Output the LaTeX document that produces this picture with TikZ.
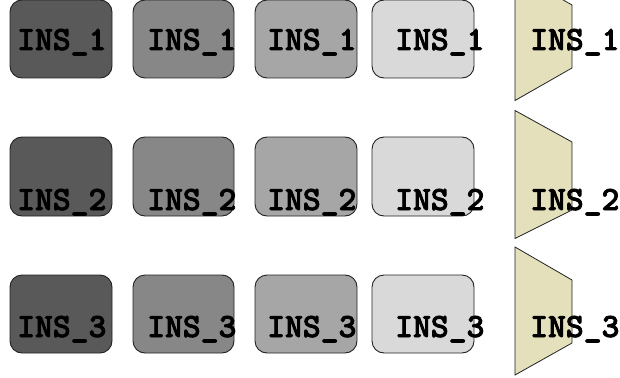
\documentclass[tikz,border=0pt]{standalone}
\usepackage{fontspec}
\newfontfamily\courb{lmmonolt10-bold.otf}[FakeBold=2.2]
\definecolor{gA}{HTML}{595959}
\definecolor{gB}{HTML}{878787}
\definecolor{gC}{HTML}{A6A6A6}
\definecolor{gD}{HTML}{D9D9D9}
\definecolor{trapc}{HTML}{E3E0BB}
\definecolor{edgec}{HTML}{222222}
\tikzset{
  box/.style={draw=edgec, line width=0.9pt, rounded corners=12pt, minimum width=102pt, minimum height=78pt, inner sep=0pt},
  trap/.style={draw=edgec, line width=0.8pt, fill=trapc},
  lbl/.style={anchor=base west, inner sep=0pt, font=\courb\fontsize{34}{34}\selectfont, text=black}
}
\begin{document}
\begin{tikzpicture}[x=1pt,y=-1pt]
\useasboundingbox (0,0) rectangle (620,377);
\clip (0,0) rectangle (620,377);
% row 1
\node[box, fill=gA] (b11) at (61,39) {};
\node[box, fill=gB, minimum width=101pt] (b12) at (183.5,39) {};
\node[box, fill=gC] (b13) at (306,39) {};
\node[box, fill=gD] (b14) at (423,39) {};
\draw[trap] (515,-27.5) -- (572,5) -- (572,68) -- (515,100.5) -- cycle;
% row 2
\node[box, fill=gA, minimum height=79pt] (b21) at (61,176.5) {};
\node[box, fill=gB, minimum width=101pt, minimum height=79pt] (b22) at (183.5,176.5) {};
\node[box, fill=gC, minimum height=79pt] (b23) at (306,176.5) {};
\node[box, fill=gD, minimum height=79pt] (b24) at (423,176.5) {};
\draw[trap] (515,110.5) -- (572,142) -- (572,210) -- (515,238.5) -- cycle;
% row 3
\node[box, fill=gA] (b31) at (61,314) {};
\node[box, fill=gB, minimum width=101pt] (b32) at (183.5,314) {};
\node[box, fill=gC] (b33) at (306,314) {};
\node[box, fill=gD] (b34) at (423,314) {};
\draw[trap] (515,247) -- (572,280) -- (572,343) -- (515,375) -- cycle;
% labels
\foreach \r/\y in {1/50,2/210,3/337}{
  \node[lbl] (t\r a) at (17,\y) {INS\_\r};
  \node[lbl] (t\r b) at (147,\y) {INS\_\r};
  \node[lbl] (t\r c) at (267,\y) {INS\_\r};
  \node[lbl] (t\r d) at (395,\y) {INS\_\r};
  \node[lbl] (t\r e) at (530,\y) {INS\_\r};
}
\end{tikzpicture}
\end{document}
